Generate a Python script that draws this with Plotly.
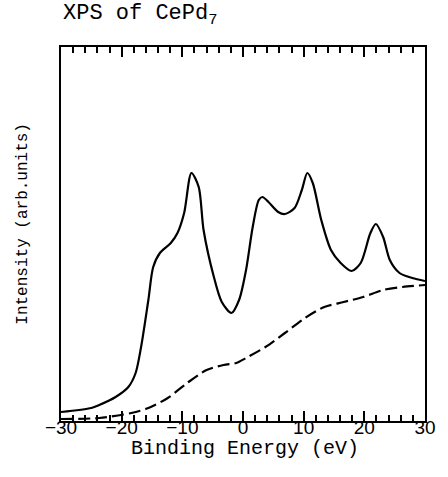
import plotly.graph_objects as go

# Solid XPS spectrum (binding energy in eV, intensity in arb. units)
energy_solid = [-30, -25, -23.7, -21, -18.9, -17.7, -16.8, -15.6, -14.8, -13.7, -11.9, -10.8,
                -9.7, -8.5, -7.3, -6.5, -4.8, -3.5, -1.9, -0.65, 0.5, 1.6, 2.6, 3.2, 4.2,
                5.8, 6.9, 8.5, 9.7, 10.6, 11.5, 12.9, 14.5, 16.1, 17.9, 19.4, 21, 21.9,
                23.1, 24.2, 25.8, 27.9, 30]
intensity_solid = [9, 13, 16, 24, 34, 48, 74, 121, 154, 168, 178, 188,
                   208, 248, 234, 191, 144, 119, 108, 121, 151, 194, 221, 224, 219,
                   209, 207, 213, 231, 248, 238, 201, 171, 158, 150, 158, 188, 197,
                   184, 161, 148, 143, 140]

# Dashed background
energy_bg = [-30, -23.7, -18.4, -15.6, -12.4, -9.2, -6.0, -3.2, -1.1, 0.5, 3.7, 6.9,
             10.2, 13.4, 16.6, 19.8, 23.1, 26.3, 30]
intensity_bg = [2, 3, 8, 13, 23, 38, 51, 56, 58, 63, 74, 88,
                103, 114, 119, 124, 131, 134, 136]

x_ticks = [-30, -20, -10, 0, 10, 20, 30]

fig = go.Figure()
fig.add_trace(go.Scatter(x=energy_solid, y=intensity_solid, mode="lines",
                         line=dict(color="black", width=2.2, shape="spline", smoothing=0.8)))
fig.add_trace(go.Scatter(x=energy_bg, y=intensity_bg, mode="lines", xaxis="x2",
                         line=dict(color="black", width=2.2, dash="12px,5px",
                                   shape="spline", smoothing=0.8)))

fig.update_layout(
    width=448, height=477,
    margin=dict(l=61, r=15, t=47, b=56),
    plot_bgcolor="white", paper_bgcolor="white",
    showlegend=False,
    xaxis=dict(range=[-30, 30], tickvals=x_ticks, showticklabels=False,
               ticks="inside", ticklen=10, tickwidth=2, tickcolor="black",
               minor=dict(ticks="inside", ticklen=6, dtick=2, tick0=0, tickcolor="black", tickwidth=1.5),
               showline=True, linewidth=2, linecolor="black", mirror="ticks",
               showgrid=False, zeroline=False),
    xaxis2=dict(range=[-30, 30], overlaying="x", anchor="free", position=0.018,
                tickvals=x_ticks, ticktext=[str(v).replace("-", "\u2212") for v in x_ticks],
                ticks="", showline=False, showgrid=False, zeroline=False,
                tickfont=dict(family="Liberation Sans", size=19, color="black")),
    yaxis=dict(range=[0, 374], showticklabels=False, ticks="",
               showline=True, linewidth=2, linecolor="black", mirror=True,
               showgrid=False, zeroline=False),
    annotations=[
        dict(text="XPS of CePd<sub>7</sub>", xref="paper", yref="paper", x=0, y=1.086,
             xanchor="left", yanchor="middle", showarrow=False,
             font=dict(family="Liberation Mono", size=22, color="black")),
        dict(text="Binding Energy (eV)", xref="paper", yref="paper", x=0.505, y=-0.074,
             xanchor="center", yanchor="middle", showarrow=False,
             font=dict(family="Liberation Mono", size=20, color="black")),
        dict(text="Intensity (arb.units)", xref="paper", yref="paper", x=-0.105, y=0.527,
             xanchor="center", yanchor="middle", showarrow=False, textangle=-90,
             font=dict(family="Liberation Mono", size=16, color="black")),
    ],
)

fig.write_html("out.html")
